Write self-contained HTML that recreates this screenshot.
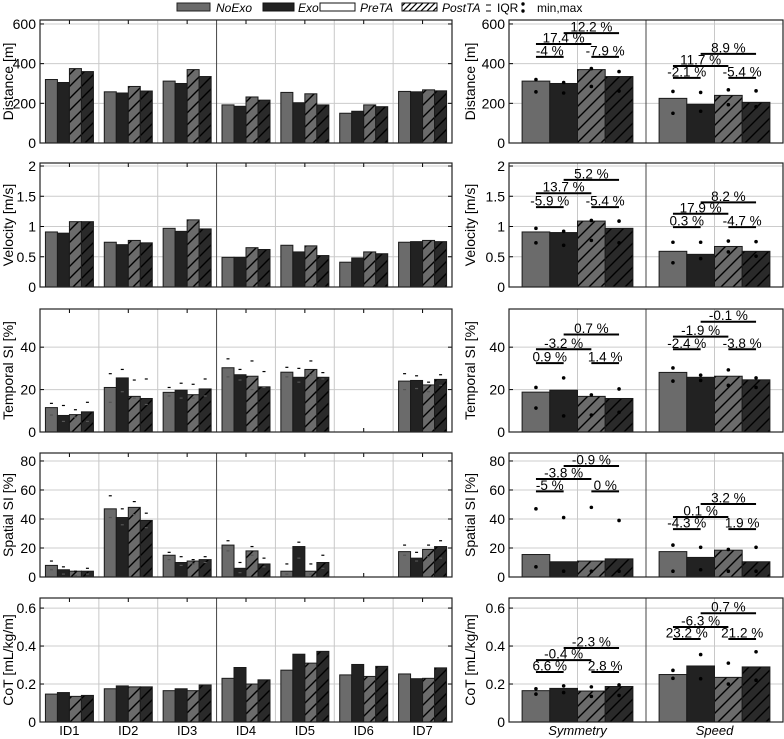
<!DOCTYPE html>
<html><head><meta charset="utf-8"><style>
html,body{margin:0;padding:0;background:#fff;}
svg{display:block;font-family:"Liberation Sans",Arial,sans-serif;}
</style></head><body>
<svg id="chart" width="784" height="739" viewBox="0 0 784 739" xmlns="http://www.w3.org/2000/svg">
<defs>
<pattern id="hatchG" patternUnits="userSpaceOnUse" width="12" height="12">
<rect width="12" height="12" fill="#6b6b6b"/><path d="M-1,13 L13,-1 M-3,3 L3,-3 M9,15 L15,9" stroke="#000" stroke-width="1.4"/></pattern>
<pattern id="hatchK" patternUnits="userSpaceOnUse" width="12" height="12">
<rect width="12" height="12" fill="#2a2a2a"/><path d="M-1,13 L13,-1 M-3,3 L3,-3 M9,15 L15,9" stroke="#000" stroke-width="1.4"/></pattern>
<pattern id="hatchW" patternUnits="userSpaceOnUse" width="6" height="6">
<rect width="6" height="6" fill="#fff"/><path d="M-1,7 L7,-1 M-2,2 L2,-2 M4,8 L8,4" stroke="#000" stroke-width="1.2"/></pattern>
</defs>
<g id="legend">
<rect x="177" y="3" width="33" height="8" fill="#6b6b6b" stroke="#222"/>
<text x="216" y="12" font-size="12" font-style="italic">NoExo</text>
<rect x="263" y="3" width="31" height="8" fill="#222" stroke="#111"/>
<text x="298" y="12" font-size="12" font-style="italic">Exo</text>
<rect x="320" y="3" width="35" height="8" fill="#fff" stroke="#111"/>
<text x="360" y="12" font-size="12" font-style="italic">PreTA</text>
<rect x="402" y="3" width="35" height="8" fill="url(#hatchW)" stroke="#111"/>
<text x="442" y="12" font-size="12" font-style="italic">PostTA</text>
<g><line x1="486" y1="5" x2="491" y2="5" stroke="#000"/><line x1="486" y1="11" x2="491" y2="11" stroke="#000"/></g>
<text x="497" y="12" font-size="12">IQR</text>
<g><circle cx="523" cy="4" r="1.7"/><circle cx="523" cy="11" r="1.7"/></g>
<text x="537" y="12" font-size="12">min,max</text>
</g>
</svg>
<script>
// ---- data ----
const ids = ["ID1","ID2","ID3","ID4","ID5","ID6","ID7"];
const summaryCats = ["Symmetry","Speed"];
const conditions = ["NoExo-PreTA","Exo-PreTA","NoExo-PostTA","Exo-PostTA"];
const distance = [[320,305,375,360],[258,252,285,262],[312,300,370,335],[192,185,232,216],[255,203,248,192],[150,160,192,183],[260,258,268,263]];
const velocity = [[0.91,0.89,1.08,1.08],[0.74,0.70,0.77,0.73],[0.97,0.92,1.11,0.96],[0.49,0.49,0.65,0.62],[0.69,0.58,0.68,0.52],[0.41,0.48,0.58,0.55],[0.74,0.75,0.77,0.75]];
const temporal = [[11.5,7.8,8.2,9.5],[21,25.5,16.8,15.8],[18.7,19.7,17.6,20.3],[30.3,27,26.3,21.3],[28.2,25.8,29.5,25.8],null,[24,24.3,22.2,24.8]];
const temporalHi = [[13.5,12.5,10.5,14],[27.5,29.5,24.5,25],[21,23,22.5,25],[34.5,29.5,33.5,28.5],[30.5,30,33.5,28],null,[27.5,26.5,23.5,27]];
const temporalLo = [[8,5,7,5],[14,19,16,13],[17,16,16,17],[26,24.5,20,21],[26,23.5,27,25],null,[20,20.5,19,22]];
const spatial = [[8,5,4,4],[47,41,48,39],[15,10,11,12],[22,6,18,9],[4,21,4,10],null,[17.5,13,19,21]];
const spatialHi = [[11,7,4,6],[56,47,52,44],[17,14,12,14],[25,10,21,13],[9,24,9,15],null,[22,17,22,25]];
const spatialLo = [[5,2,1,2],[41,36,43,34],[12,8,9,10],[18,3,15,7],[2,13,2,6],null,[15,11,14,13]];
const cot = [[0.147,0.155,0.135,0.14],[0.175,0.19,0.185,0.185],[0.165,0.175,0.165,0.195],[0.23,0.287,0.2,0.222],[0.273,0.357,0.31,0.372],[0.248,0.303,0.24,0.293],[0.253,0.228,0.23,0.285]];

const sumDistance = [[312,300,370,335],[225,195,240,205]];
const sumDistanceMax = [[320,305,375,360],[260,255,268,263]];
const sumDistanceMin = [[258,252,285,262],[150,160,193,183]];
const sumVelocity = [[0.91,0.90,1.09,0.97],[0.59,0.54,0.67,0.59]];
const sumVelocityMax = [[0.97,0.92,1.10,1.09],[0.74,0.74,0.76,0.75]];
const sumVelocityMin = [[0.73,0.69,0.77,0.73],[0.40,0.47,0.58,0.51]];
const sumTemporal = [[18.8,19.7,16.8,15.8],[28.1,25.8,26.3,24.6]];
const sumTemporalMax = [[21,25.5,17.5,20.3],[30.2,26.8,29.3,25.5]];
const sumTemporalMin = [[11.3,7.6,8,9.3],[24,24.3,22,21]];
const sumSpatial = [[15.5,10.5,11,12.5],[17.5,13.5,18.5,10.5]];
const sumSpatialMax = [[47,41,48,39],[22,20.5,19,20.5]];
const sumSpatialMin = [[7,4,4,4],[4,5,4,4]];
const sumCot = [[0.165,0.177,0.163,0.187],[0.25,0.295,0.235,0.29]];
const sumCotMax = [[0.175,0.19,0.185,0.195],[0.272,0.355,0.31,0.37]];
const sumCotMin = [[0.147,0.155,0.135,0.14],[0.23,0.228,0.2,0.22]];

const annPairs = [[0,1],[0,2],[1,3],[2,3]];
const annDistance = [["-4 %","17.4 %","12.2 %","-7.9 %"],["-2.1 %","11.7 %","8.9 %","-5.4 %"]];
const annDistanceLvl = [[434,499,554,434],[328,388,449,328]];
const annVelocity = [["-5.9 %","13.7 %","5.2 %","-5.4 %"],["0.3 %","17.9 %","8.2 %","-4.7 %"]];
const annVelocityLvl = [[1.32,1.55,1.77,1.32],[0.99,1.21,1.40,0.99]];
const annTemporal = [["0.9 %","-3.2 %","0.7 %","1.4 %"],["-2.4 %","-1.9 %","-0.1 %","-3.8 %"]];
const annTemporalLvl = [[32.5,39,46,32.5],[39,45,52,39]];
const annSpatial = [["-5 %","-3.8 %","-0.9 %","0 %"],["-4.3 %","0.1 %","3.2 %","1.9 %"]];
const annSpatialLvl = [[59,67.6,76.5,59],[33,41.4,50.3,33]];
const annCot = [["6.6 %","-0.4 %","-2.3 %","2.8 %"],["23.2 %","-6.3 %","0.7 %","21.2 %"]];
const annCotLvl = [[0.263,0.326,0.39,0.263],[0.437,0.5,0.573,0.437]];

const distanceTicks = [0,200,400,600];
const velocityTicks = [0,0.5,1,1.5,2];
const temporalTicks = [0,20,40];
const spatialTicks = [0,20,40,60,80];
const cotTicks = [0,0.2,0.4,0.6];

// ---- drawing ----
const svg = document.getElementById('chart');
const NS = 'http://www.w3.org/2000/svg';
function mk(tag, attrs, parent){ const e=document.createElementNS(NS,tag); for(const k in attrs) e.setAttribute(k,attrs[k]); (parent||svg).appendChild(e); return e; }
const fills = ['#6b6b6b','#222','url(#hatchG)','url(#hatchK)'];

const rows = [
 {name:'distance', title:'Distance [m]', top:20, bot:143, max:620, ticks:distanceTicks, data:distance, sum:sumDistance, smax:sumDistanceMax, smin:sumDistanceMin, ann:annDistance, lvl:annDistanceLvl},
 {name:'velocity', title:'Velocity [m/s]', top:163, bot:287, max:2.05, ticks:velocityTicks, data:velocity, sum:sumVelocity, smax:sumVelocityMax, smin:sumVelocityMin, ann:annVelocity, lvl:annVelocityLvl},
 {name:'temporal-si', title:'Temporal SI [%]', top:309, bot:432, max:58, ticks:temporalTicks, data:temporal, hi:temporalHi, lo:temporalLo, sum:sumTemporal, smax:sumTemporalMax, smin:sumTemporalMin, ann:annTemporal, lvl:annTemporalLvl},
 {name:'spatial-si', title:'Spatial SI [%]', top:453, bot:577, max:85.5, ticks:spatialTicks, data:spatial, hi:spatialHi, lo:spatialLo, sum:sumSpatial, smax:sumSpatialMax, smin:sumSpatialMin, ann:annSpatial, lvl:annSpatialLvl},
 {name:'cot', title:'CoT [mL/kg/m]', top:598, bot:722, max:0.653, ticks:cotTicks, data:cot, sum:sumCot, smax:sumCotMax, smin:sumCotMin, ann:annCot, lvl:annCotLvl}
];
const L0=40, L1=452, R0=509, R1=783;

function fmt(t){ return String(t); }

rows.forEach(function(r){
  const y = v => r.bot - v/r.max*(r.bot-r.top);
  const gL = mk('g',{});
  
  
  const gw = (L1-L0)/ids.length;
  r.ticks.forEach(function(t){
    const ln = mk('line',{x1:L0,x2:L1,y1:y(t),y2:y(t),stroke:'#ccc','stroke-width':1},gL);
    
    
    const tx = mk('text',{x:36,y:y(t)+5,'font-size':14,'text-anchor':'end'},gL);
    
    
    tx.textContent = fmt(t);
    mk('line',{x1:L0,x2:L0+4,y1:y(t),y2:y(t),stroke:'#000'},gL);
    mk('line',{x1:L1,x2:L1-4,y1:y(t),y2:y(t),stroke:'#000'},gL);
  });
  for(let i=1;i<ids.length;i++){
    const x=L0+gw*i;
    mk('line',{x1:x,x2:x,y1:r.top,y2:r.bot,stroke:i===3?'#444':'#c8c8c8','stroke-width':1},gL);
  }
  ids.forEach(function(id,i){
    const cx=L0+gw*(i+0.5);
    mk('line',{x1:cx,x2:cx,y1:r.top,y2:r.top+4,stroke:'#000'},gL);
    mk('line',{x1:cx,x2:cx,y1:r.bot,y2:r.bot-4,stroke:'#000'},gL);
    const vals=r.data[i]; if(!vals) return;
    const bw=12, x0=cx-24;
    vals.forEach(function(v,j){
      const b = mk('rect',{x:x0+j*bw,y:y(v),width:bw,height:r.bot-y(v),fill:fills[j],stroke:'#1a1a1a','stroke-width':1},gL);
      
      
      if(r.hi){
        const xc=x0+j*bw+bw/2;
        mk('line',{x1:xc-1.5,x2:xc+1.5,y1:y(r.hi[i][j]),y2:y(r.hi[i][j]),stroke:'#000','stroke-width':1.2},gL);
        mk('line',{x1:xc-1.5,x2:xc+1.5,y1:y(r.lo[i][j]),y2:y(r.lo[i][j]),stroke:'#555','stroke-width':1.2},gL);
      }
    });
  });
  mk('rect',{x:L0,y:r.top,width:L1-L0,height:r.bot-r.top,fill:'none',stroke:'#222','stroke-width':1.2},gL);
  const tl = mk('text',{x:0,y:0,'font-size':14,'text-anchor':'middle',transform:'translate(13,'+((r.top+r.bot)/2)+') rotate(-90)'},gL);
  
  
  tl.textContent = r.title;

  const gR = mk('g',{});
  
  
  const rw=(R1-R0)/summaryCats.length;
  r.ticks.forEach(function(t){
    mk('line',{x1:R0,x2:R1,y1:y(t),y2:y(t),stroke:'#ccc','stroke-width':1},gR);
    const tx = mk('text',{x:505,y:y(t)+5,'font-size':14,'text-anchor':'end'},gR);
    
    
    tx.textContent = fmt(t);
    mk('line',{x1:R0,x2:R0+4,y1:y(t),y2:y(t),stroke:'#000'},gR);
  });
  mk('line',{x1:R0+rw,x2:R0+rw,y1:r.top,y2:r.bot,stroke:'#444'},gR);
  summaryCats.forEach(function(c,i){
    const cx=R0+rw*(i+0.5);
    mk('line',{x1:cx,x2:cx,y1:r.top,y2:r.bot,stroke:'#c8c8c8'},gR);
    const bw=27.7, x0=cx-2*bw;
    r.sum[i].forEach(function(v,j){
      const b = mk('rect',{x:x0+j*bw,y:y(v),width:bw,height:r.bot-y(v),fill:fills[j],stroke:'#1a1a1a','stroke-width':1},gR);
      
      
      const xc=x0+j*bw+bw/2;
      mk('circle',{cx:xc,cy:y(r.smax[i][j]),r:1.8,fill:'#000'},gR);
      mk('circle',{cx:xc,cy:y(r.smin[i][j]),r:1.8,fill:'#000'},gR);
    });
    annPairs.forEach(function(p,k){
      const xa=x0+p[0]*bw+bw/2, xb=x0+p[1]*bw+bw/2, ly=y(r.lvl[i][k]);
      const al = mk('line',{x1:xa,x2:xb,y1:ly,y2:ly,stroke:'#000','stroke-width':2},gR);
      
      
      const at = mk('text',{x:(xa+xb)/2,y:ly-1.5,'font-size':13.5,'text-anchor':'middle'},gR);
      
      
      at.textContent = r.ann[i][k];
    });
  });
  mk('rect',{x:R0,y:r.top,width:R1-R0,height:r.bot-r.top,fill:'none',stroke:'#222','stroke-width':1.2},gR);
  const tr = mk('text',{x:0,y:0,'font-size':14,'text-anchor':'middle',transform:'translate(475,'+((r.top+r.bot)/2)+') rotate(-90)'},gR);
  
  
  tr.textContent = r.title;
});

const gw=(L1-L0)/ids.length;
ids.forEach(function(id,i){
  const t = mk('text',{x:L0+gw*(i+0.5),y:735,'font-size':13,'text-anchor':'middle'});
  
  
  t.textContent = id;
});
const rw=(R1-R0)/summaryCats.length;
summaryCats.forEach(function(c,i){
  const t = mk('text',{x:R0+rw*(i+0.5),y:735,'font-size':13,'text-anchor':'middle','font-style':'italic'});
  
  
  t.textContent = c;
});
</script>
</body></html>
